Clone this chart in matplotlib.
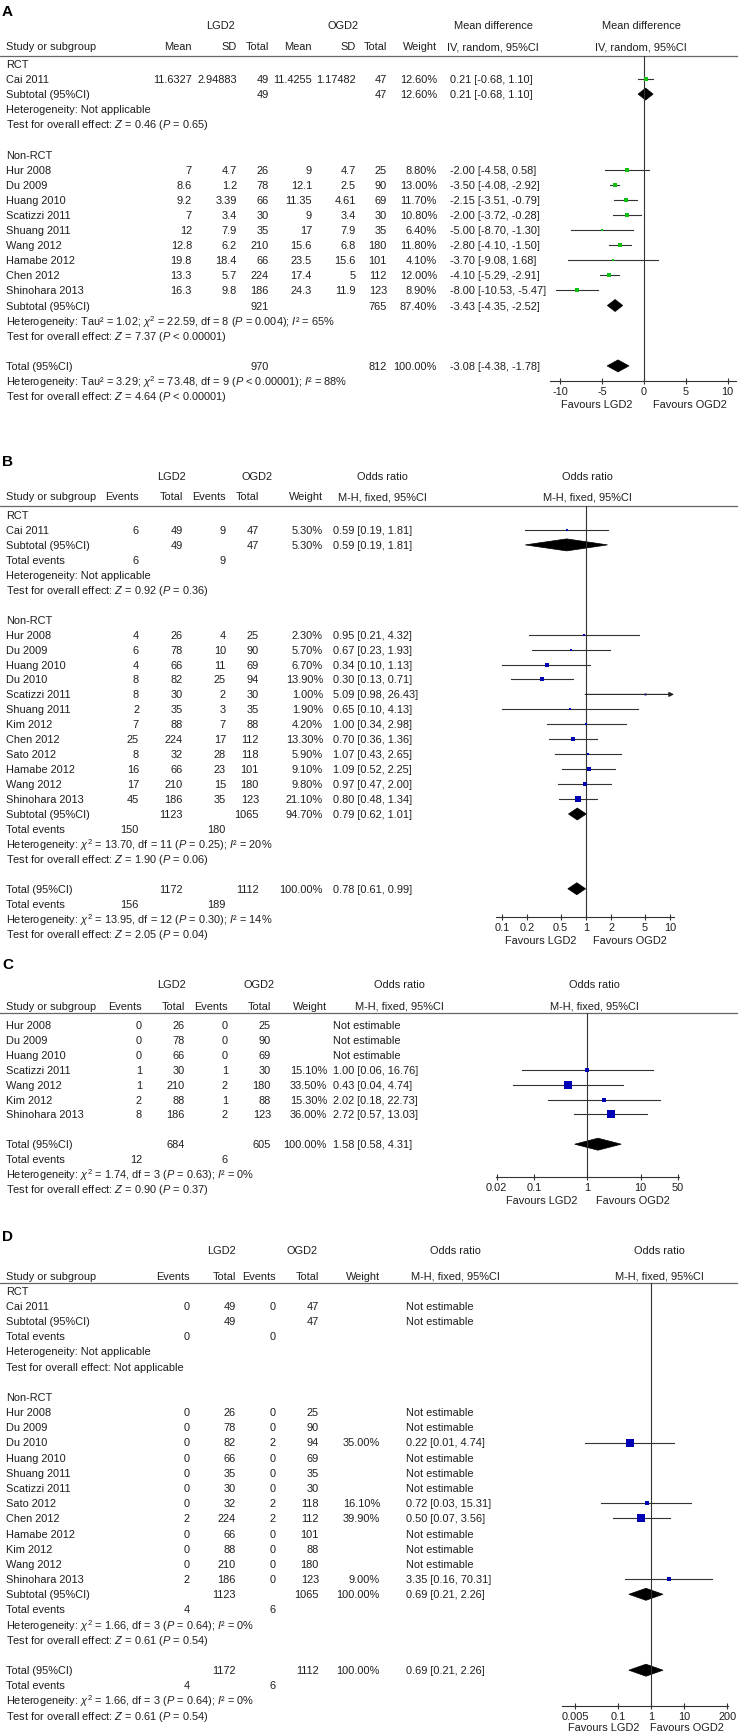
import matplotlib
matplotlib.use("Agg")
import matplotlib.pyplot as plt
from matplotlib.patches import Polygon
from matplotlib.ticker import NullLocator

plt.rcParams['font.family'] = 'Liberation Sans'
plt.rcParams['mathtext.fontset'] = 'custom'
plt.rcParams['mathtext.rm'] = 'Liberation Sans'
plt.rcParams['mathtext.it'] = 'Liberation Sans:italic'

W, H = 745, 1733
FS = 7.9
INK = '#1e1e1e'
GREEN = '#10c010'
BLUE = '#0000b4'

# ---------------- panel A: mean difference, IV random ----------------
A_groups = ["RCT", "Non-RCT"]
A_group_n = [1, 9]
A_study = ["Cai 2011", "Hur 2008", "Du 2009", "Huang 2010", "Scatizzi 2011",
           "Shuang 2011", "Wang 2012", "Hamabe 2012", "Chen 2012", "Shinohara 2013"]
A_mean1 = [11.6327, 7, 8.6, 9.2, 7, 12, 12.8, 19.8, 13.3, 16.3]
A_sd1 = [2.94883, 4.7, 1.2, 3.39, 3.4, 7.9, 6.2, 18.4, 5.7, 9.8]
A_n1 = [49, 26, 78, 66, 30, 35, 210, 66, 224, 186]
A_mean2 = [11.4255, 9, 12.1, 11.35, 9, 17, 15.6, 23.5, 17.4, 24.3]
A_sd2 = [1.17482, 4.7, 2.5, 4.61, 3.4, 7.9, 6.8, 15.6, 5, 11.9]
A_n2 = [47, 25, 90, 69, 30, 35, 180, 101, 112, 123]
A_w = [12.6, 8.8, 13.0, 11.7, 10.8, 6.4, 11.8, 4.1, 12.0, 8.9]
A_est = [0.21, -2.00, -3.50, -2.15, -2.00, -5.00, -2.80, -3.70, -4.10, -8.00]
A_lo = [-0.68, -4.58, -4.08, -3.51, -3.72, -8.70, -4.10, -9.08, -5.29, -10.53]
A_hi = [1.10, 0.58, -2.92, -0.79, -0.28, -1.30, -1.50, 1.68, -2.91, -5.47]
# subtotals (per group) then overall total
A_sum_n1 = [49, 921, 970]
A_sum_n2 = [47, 765, 812]
A_sum_w = [12.6, 87.4, 100.0]
A_sum_est = [0.21, -3.43, -3.08]
A_sum_lo = [-0.68, -4.35, -4.38]
A_sum_hi = [1.10, -2.52, -1.78]
A_het = ["Heterogeneity: Not applicable",
         r"Heterogeneity: Tau² = 1.02; $\chi^2$ = 22.59, df = 8 ($P$ = 0.004); $I$² = 65%",
         r"Heterogeneity: Tau² = 3.29; $\chi^2$ = 73.48, df = 9 ($P$ < 0.00001); $I$² = 88%"]
A_test = [r"Test for overall effect: $Z$ = 0.46 ($P$ = 0.65)",
          r"Test for overall effect: $Z$ = 7.37 ($P$ < 0.00001)",
          r"Test for overall effect: $Z$ = 4.64 ($P$ < 0.00001)"]
A_ticks = [-10, -5, 0, 5, 10]

# ---------------- panel B: odds ratio ----------------
B_groups = ["RCT", "Non-RCT"]
B_group_n = [1, 12]
B_study = ["Cai 2011", "Hur 2008", "Du 2009", "Huang 2010", "Du 2010", "Scatizzi 2011",
           "Shuang 2011", "Kim 2012", "Chen 2012", "Sato 2012", "Hamabe 2012",
           "Wang 2012", "Shinohara 2013"]
B_ev1 = [6, 4, 6, 4, 8, 8, 2, 7, 25, 8, 16, 17, 45]
B_n1 = [49, 26, 78, 66, 82, 30, 35, 88, 224, 32, 66, 210, 186]
B_ev2 = [9, 4, 10, 11, 25, 2, 3, 7, 17, 28, 23, 15, 35]
B_n2 = [47, 25, 90, 69, 94, 30, 35, 88, 112, 118, 101, 180, 123]
B_w = [5.3, 2.3, 5.7, 6.7, 13.9, 1.0, 1.9, 4.2, 13.3, 5.9, 9.1, 9.8, 21.1]
B_est = [0.59, 0.95, 0.67, 0.34, 0.30, 5.09, 0.65, 1.00, 0.70, 1.07, 1.09, 0.97, 0.80]
B_lo = [0.19, 0.21, 0.23, 0.10, 0.13, 0.98, 0.10, 0.34, 0.36, 0.43, 0.52, 0.47, 0.48]
B_hi = [1.81, 4.32, 1.93, 1.13, 0.71, 26.43, 4.13, 2.98, 1.36, 2.65, 2.25, 2.00, 1.34]
B_sum_n1 = [49, 1123, 1172]
B_sum_n2 = [47, 1065, 1112]
B_sum_w = [5.3, 94.7, 100.0]
B_sum_est = [0.59, 0.79, 0.78]
B_sum_lo = [0.19, 0.62, 0.61]
B_sum_hi = [1.81, 1.01, 0.99]
B_tot_ev1 = [6, 150, 156]
B_tot_ev2 = [9, 180, 189]
B_het = ["Heterogeneity: Not applicable",
         r"Heterogeneity: $\chi^2$ = 13.70, df = 11 ($P$ = 0.25); $I$² = 20%",
         r"Heterogeneity: $\chi^2$ = 13.95, df = 12 ($P$ = 0.30); $I$² = 14%"]
B_test = [r"Test for overall effect: $Z$ = 0.92 ($P$ = 0.36)",
          r"Test for overall effect: $Z$ = 1.90 ($P$ = 0.06)",
          r"Test for overall effect: $Z$ = 2.05 ($P$ = 0.04)"]
B_ticks = [0.1, 0.2, 0.5, 1, 2, 5, 10]

# ---------------- panel C: odds ratio, no subgroups ----------------
C_group_n = [7]
C_study = ["Hur 2008", "Du 2009", "Huang 2010", "Scatizzi 2011", "Wang 2012",
           "Kim 2012", "Shinohara 2013"]
C_ev1 = [0, 0, 0, 1, 1, 2, 8]
C_n1 = [26, 78, 66, 30, 210, 88, 186]
C_ev2 = [0, 0, 0, 1, 2, 1, 2]
C_n2 = [25, 90, 69, 30, 180, 88, 123]
C_w = [None, None, None, 15.1, 33.5, 15.3, 36.0]
C_est = [None, None, None, 1.00, 0.43, 2.02, 2.72]
C_lo = [None, None, None, 0.06, 0.04, 0.18, 0.57]
C_hi = [None, None, None, 16.76, 4.74, 22.73, 13.03]
C_sum_n1 = [684]
C_sum_n2 = [605]
C_sum_w = [100.0]
C_sum_est = [1.58]
C_sum_lo = [0.58]
C_sum_hi = [4.31]
C_tot_ev1 = [12]
C_tot_ev2 = [6]
C_het = [r"Heterogeneity: $\chi^2$ = 1.74, df = 3 ($P$ = 0.63); $I$² = 0%"]
C_test = [r"Test for overall effect: $Z$ = 0.90 ($P$ = 0.37)"]
C_ticks = [0.02, 0.1, 1, 10, 50]

# ---------------- panel D: odds ratio ----------------
D_groups = ["RCT", "Non-RCT"]
D_group_n = [1, 12]
D_study = ["Cai 2011", "Hur 2008", "Du 2009", "Du 2010", "Huang 2010", "Shuang 2011",
           "Scatizzi 2011", "Sato 2012", "Chen 2012", "Hamabe 2012", "Kim 2012",
           "Wang 2012", "Shinohara 2013"]
D_ev1 = [0, 0, 0, 0, 0, 0, 0, 0, 2, 0, 0, 0, 2]
D_n1 = [49, 26, 78, 82, 66, 35, 30, 32, 224, 66, 88, 210, 186]
D_ev2 = [0, 0, 0, 2, 0, 0, 0, 2, 2, 0, 0, 0, 0]
D_n2 = [47, 25, 90, 94, 69, 35, 30, 118, 112, 101, 88, 180, 123]
D_w = [None, None, None, 35.0, None, None, None, 16.1, 39.9, None, None, None, 9.0]
D_est = [None, None, None, 0.22, None, None, None, 0.72, 0.50, None, None, None, 3.35]
D_lo = [None, None, None, 0.01, None, None, None, 0.03, 0.07, None, None, None, 0.16]
D_hi = [None, None, None, 4.74, None, None, None, 15.31, 3.56, None, None, None, 70.31]
D_sum_n1 = [49, 1123, 1172]
D_sum_n2 = [47, 1065, 1112]
D_sum_w = [None, 100.0, 100.0]
D_sum_est = [None, 0.69, 0.69]
D_sum_lo = [None, 0.21, 0.21]
D_sum_hi = [None, 2.26, 2.26]
D_tot_ev1 = [0, 4, 4]
D_tot_ev2 = [0, 6, 6]
D_het = ["Heterogeneity: Not applicable",
         r"Heterogeneity: $\chi^2$ = 1.66, df = 3 ($P$ = 0.64); $I$² = 0%",
         r"Heterogeneity: $\chi^2$ = 1.66, df = 3 ($P$ = 0.64); $I$² = 0%"]
D_test = ["Test for overall effect: Not applicable",
          r"Test for overall effect: $Z$ = 0.61 ($P$ = 0.54)",
          r"Test for overall effect: $Z$ = 0.61 ($P$ = 0.54)"]
D_ticks = [0.005, 0.1, 1, 10, 200]


def fmt(v):
    return '' if v is None else f"{v:g}"


def w_text(v):
    return '' if v is None else f"{v:.2f}%"


def ci_text(e, l, h):
    return 'Not estimable' if e is None else f"{e:.2f} [{l:.2f}, {h:.2f}]"


def row_layout(groups, group_n, binary):
    rows = []
    s = 0
    for g, n in enumerate(group_n):
        if groups:
            rows.append(('group', g))
        rows += [('study', s + i) for i in range(n)]
        s += n
        if groups:
            rows.append(('sum', g))
            if binary:
                rows.append(('events', g))
            rows += [('het', g), ('test', g)]
        rows.append(('blank', None))
    k = len(groups) if groups else 0
    rows.append(('sum', k))
    if binary:
        rows.append(('events', k))
    rows += [('het', k), ('test', k)]
    return rows


fig = plt.figure(figsize=(W / 100, H / 100), dpi=100)
tx = fig.add_axes([0, 0, 1, 1])
tx.set_xlim(0, W)
tx.set_ylim(H, 0)
tx.axis('off')


def t(x, y, s, ha='left', **kw):
    tx.text(x, y, s, ha=ha, va='center', fontsize=FS, color=INK, **kw)


def draw_panel(L, letter, top_hdr, sub_hdr, groups, group_n, study, study_vals,
               w, est, lo, hi, sum_n1, sum_n2, sum_w, sum_est, sum_lo, sum_hi,
               tot_ev, het, test, color, ticks, ref):
    binary = tot_ev is not None
    rows = row_layout(groups, group_n, binary)

    tx.text(2, L['letter_y'], letter, ha='left', va='center', fontsize=11,
            fontweight='bold', color='black')
    for s, x, ha in top_hdr:
        t(x, L['top_y'], s, ha)
    for s, x, ha in sub_hdr:
        t(x, L['head_y'], s, ha)
    tx.plot([0, 737], [L['line_y']] * 2, color='#666666', lw=0.9)

    ax = fig.add_axes([L['x0'] / W, 1 - L['axis_y'] / H,
                       (L['x1'] - L['x0']) / W, (L['axis_y'] - L['line_y']) / H])
    ax.set_facecolor('none')
    if L['log']:
        ax.set_xscale('log')
    ax.set_xlim(*L['lim'])
    ax.set_ylim(L['axis_y'], L['line_y'])
    ax.set_yticks([])
    for sp in ('top', 'left', 'right'):
        ax.spines[sp].set_visible(False)
    ax.spines['bottom'].set_color('#333333')
    ax.spines['bottom'].set_linewidth(0.8)
    ax.set_xticks(ticks)
    ax.set_xticklabels([f"{v:g}" for v in ticks])
    ax.xaxis.set_minor_locator(NullLocator())
    ax.tick_params(axis='x', direction='inout', length=4, width=0.8,
                   color='#333333', labelsize=FS, labelcolor=INK, pad=1.5)
    ax.axvline(ref, color='#333333', lw=0.8)
    ax.text(0.25, L['fav_y'], 'Favours LGD2', transform=ax.get_yaxis_transform(),
            ha='center', va='center', fontsize=FS, color=INK)
    ax.text(0.75, L['fav_y'], 'Favours OGD2', transform=ax.get_yaxis_transform(),
            ha='center', va='center', fontsize=FS, color=INK)
    xmax = L['lim'][1]
    overall = len(groups) if groups else 0

    for k, (kind, i) in enumerate(rows):
        y = L['row0'] + L['step'] * k
        if kind == 'group':
            t(6, y, groups[i])
        elif kind == 'study':
            t(6, y, study[i])
            for vals, x in zip(study_vals, L['study_x']):
                t(x, y, fmt(vals[i]), 'right')
            t(L['w_x'], y, w_text(w[i]), 'right')
            t(L['ci_x'], y, ci_text(est[i], lo[i], hi[i]))
            if est[i] is not None:
                if hi[i] > xmax:
                    ax.annotate('', xy=(xmax, y), xytext=(lo[i], y),
                                arrowprops=dict(arrowstyle='-|>', color='#222222', lw=0.8,
                                                shrinkA=0, shrinkB=0, mutation_scale=7))
                else:
                    ax.plot([lo[i], hi[i]], [y, y], color='#333333', lw=0.8)
                side = 1.8 + 0.18 * w[i]
                ax.plot(est[i], y, 's', ms=side * 0.72, color=color, mew=0)
        elif kind == 'sum':
            t(6, y, 'Total (95%CI)' if i == overall else 'Subtotal (95%CI)')
            t(L['sum_x'][0], y, fmt(sum_n1[i]), 'right')
            t(L['sum_x'][1], y, fmt(sum_n2[i]), 'right')
            t(L['w_x'], y, w_text(sum_w[i]), 'right')
            t(L['ci_x'], y, ci_text(sum_est[i], sum_lo[i], sum_hi[i]))
            if sum_est[i] is not None:
                hh = 6
                ax.add_patch(Polygon([(sum_lo[i], y), (sum_est[i], y - hh),
                                      (sum_hi[i], y), (sum_est[i], y + hh)],
                                     closed=True, facecolor='black', edgecolor='black', lw=0.5))
        elif kind == 'events':
            t(6, y, 'Total events')
            t(L['ev_x'][0], y, fmt(tot_ev[0][i]), 'right')
            t(L['ev_x'][1], y, fmt(tot_ev[1][i]), 'right')
        elif kind == 'het':
            t(6, y, het[i])
        elif kind == 'test':
            t(6, y, test[i])


# ---------------- layout (pixel positions) ----------------
LAY_A = dict(letter_y=12, top_y=26, head_y=47, line_y=57, row0=64.9, step=15.1,
             axis_y=382, fav_y=405, x0=550, x1=736, lim=(-11.2, 11.0), log=False,
             study_x=[192, 237, 269, 312, 356, 387], sum_x=[269, 387], ev_x=None,
             w_x=437, ci_x=450)
LAY_B = dict(letter_y=462, top_y=477, head_y=497, line_y=507, row0=516, step=14.95,
             axis_y=918, fav_y=941, x0=496, x1=674, lim=(0.085, 11.2), log=True,
             study_x=[139, 183, 226, 259], sum_x=[183, 259], ev_x=[139, 226],
             w_x=323, ci_x=333)
LAY_C = dict(letter_y=965, top_y=985, head_y=1006.7, line_y=1014, row0=1026, step=14.9,
             axis_y=1178, fav_y=1201, x0=496, x1=679, lim=(0.0195, 52), log=True,
             study_x=[142, 185, 228, 271], sum_x=[185, 271], ev_x=[142, 228],
             w_x=327, ci_x=333)
LAY_D = dict(letter_y=1237, top_y=1251, head_y=1276.7, line_y=1284, row0=1291.7, step=15.18,
             axis_y=1707, fav_y=1728, x0=562, x1=728, lim=(0.002, 208), log=True,
             study_x=[190, 236, 276, 319], sum_x=[236, 319], ev_x=[190, 276],
             w_x=380, ci_x=406)


def or_headers(xs, ci_c, plot_c):
    top = [("LGD2", xs[0], 'center'), ("OGD2", xs[1], 'center'),
           ("Odds ratio", ci_c, 'center'), ("Odds ratio", plot_c, 'center')]
    return top


draw_panel(LAY_A, 'A',
           [("LGD2", 220, 'center'), ("OGD2", 343, 'center'),
            ("Mean difference", 493, 'center'), ("Mean difference", 641, 'center')],
           [("Study or subgroup", 6, 'left'), ("Mean", 192, 'right'), ("SD", 237, 'right'),
            ("Total", 269, 'right'), ("Mean", 312, 'right'), ("SD", 356, 'right'),
            ("Total", 387, 'right'), ("Weight", 437, 'right'),
            ("IV, random, 95%CI", 493, 'center'), ("IV, random, 95%CI", 641, 'center')],
           A_groups, A_group_n, A_study, [A_mean1, A_sd1, A_n1, A_mean2, A_sd2, A_n2],
           A_w, A_est, A_lo, A_hi, A_sum_n1, A_sum_n2, A_sum_w, A_sum_est, A_sum_lo,
           A_sum_hi, None, A_het, A_test, GREEN, A_ticks, 0)


def or_sub(L, ci_c, plot_c):
    ex = L['study_x']
    return [("Study or subgroup", 6, 'left'), ("Events", ex[0], 'right'),
            ("Total", ex[1], 'right'), ("Events", ex[2], 'right'), ("Total", ex[3], 'right'),
            ("Weight", L['w_x'], 'right'), ("M-H, fixed, 95%CI", ci_c, 'center'),
            ("M-H, fixed, 95%CI", plot_c, 'center')]


draw_panel(LAY_B, 'B', or_headers([171, 257], 382, 587), or_sub(LAY_B, 382, 587),
           B_groups, B_group_n, B_study, [B_ev1, B_n1, B_ev2, B_n2],
           B_w, B_est, B_lo, B_hi, B_sum_n1, B_sum_n2, B_sum_w, B_sum_est, B_sum_lo,
           B_sum_hi, (B_tot_ev1, B_tot_ev2), B_het, B_test, BLUE, B_ticks, 1)

draw_panel(LAY_C, 'C', or_headers([171, 259], 399, 594), or_sub(LAY_C, 399, 594),
           None, C_group_n, C_study, [C_ev1, C_n1, C_ev2, C_n2],
           C_w, C_est, C_lo, C_hi, C_sum_n1, C_sum_n2, C_sum_w, C_sum_est, C_sum_lo,
           C_sum_hi, (C_tot_ev1, C_tot_ev2), C_het, C_test, BLUE, C_ticks, 1)

draw_panel(LAY_D, 'D', or_headers([221, 302], 455, 659), or_sub(LAY_D, 455, 659),
           D_groups, D_group_n, D_study, [D_ev1, D_n1, D_ev2, D_n2],
           D_w, D_est, D_lo, D_hi, D_sum_n1, D_sum_n2, D_sum_w, D_sum_est, D_sum_lo,
           D_sum_hi, (D_tot_ev1, D_tot_ev2), D_het, D_test, BLUE, D_ticks, 1)

fig.savefig('out.png', dpi=100)
